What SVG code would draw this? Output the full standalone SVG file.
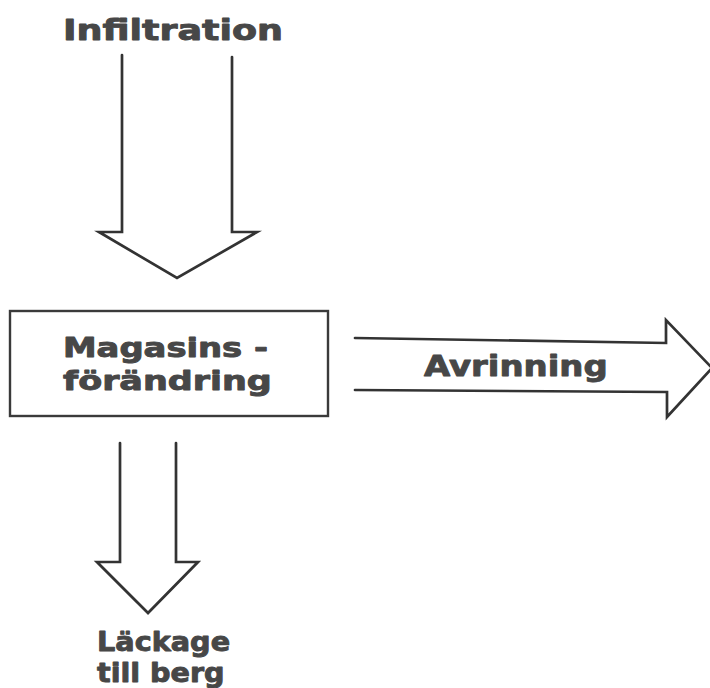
<svg xmlns="http://www.w3.org/2000/svg" width="710" height="688" viewBox="0 0 710 688">
  <style>
    .lbl { font-family: "DejaVu Sans", "Liberation Sans", sans-serif; font-weight: bold; fill: #474747; stroke: #474747; stroke-width: 0.9; stroke-linejoin: round; }
    .edge { fill: none; stroke: #333; stroke-width: 2.7; stroke-linejoin: miter; stroke-linecap: round; }
    .box { fill: none; stroke: #3a3a3a; stroke-width: 2.4; }
  </style>
  <rect width="710" height="688" fill="#fff"/>

  <!-- block arrows (outline only) -->
  <g id="connectors">
    <path id="arrow-infiltration" class="edge" d="M122,55 L122,232 L99,232 L177,278 L257,232 L232,232 L232,57"/>
    <path id="arrow-avrinning" class="edge" d="M355,338 L666,343 L666,320 L712,368 L667,417 L667,392 L355,390"/>
    <path id="arrow-lackage" class="edge" d="M120,443 L120,562 L97,562 L148,613 L198,562 L176,562 L176,443"/>
  </g>

  <!-- labels are widened horizontally to give an extended face -->
  <g id="node-infiltration">
    <text class="lbl" transform="translate(63,40) scale(1.25,1)" font-size="27.5" textLength="176" lengthAdjust="spacingAndGlyphs">Infiltration</text>
  </g>

  <g id="node-magasin">
    <rect class="box" x="10" y="311" width="318" height="105"/>
    <text class="lbl" transform="translate(63,357) scale(1.25,1)" font-size="26" textLength="164" lengthAdjust="spacingAndGlyphs">Magasins -</text>
    <text class="lbl" transform="translate(63,390) scale(1.25,1)" font-size="26" textLength="167" lengthAdjust="spacingAndGlyphs">förändring</text>
  </g>

  <g id="node-avrinning">
    <text class="lbl" transform="translate(424,376) scale(1.25,1)" font-size="28.5" textLength="147" lengthAdjust="spacingAndGlyphs">Avrinning</text>
  </g>

  <g id="node-lackage">
    <text class="lbl" transform="translate(97,651) scale(1.1,1)" font-size="26" textLength="121" lengthAdjust="spacingAndGlyphs">Läckage</text>
    <text class="lbl" transform="translate(97,682) scale(1.1,1)" font-size="26" textLength="116" lengthAdjust="spacingAndGlyphs">till berg</text>
  </g>
</svg>
